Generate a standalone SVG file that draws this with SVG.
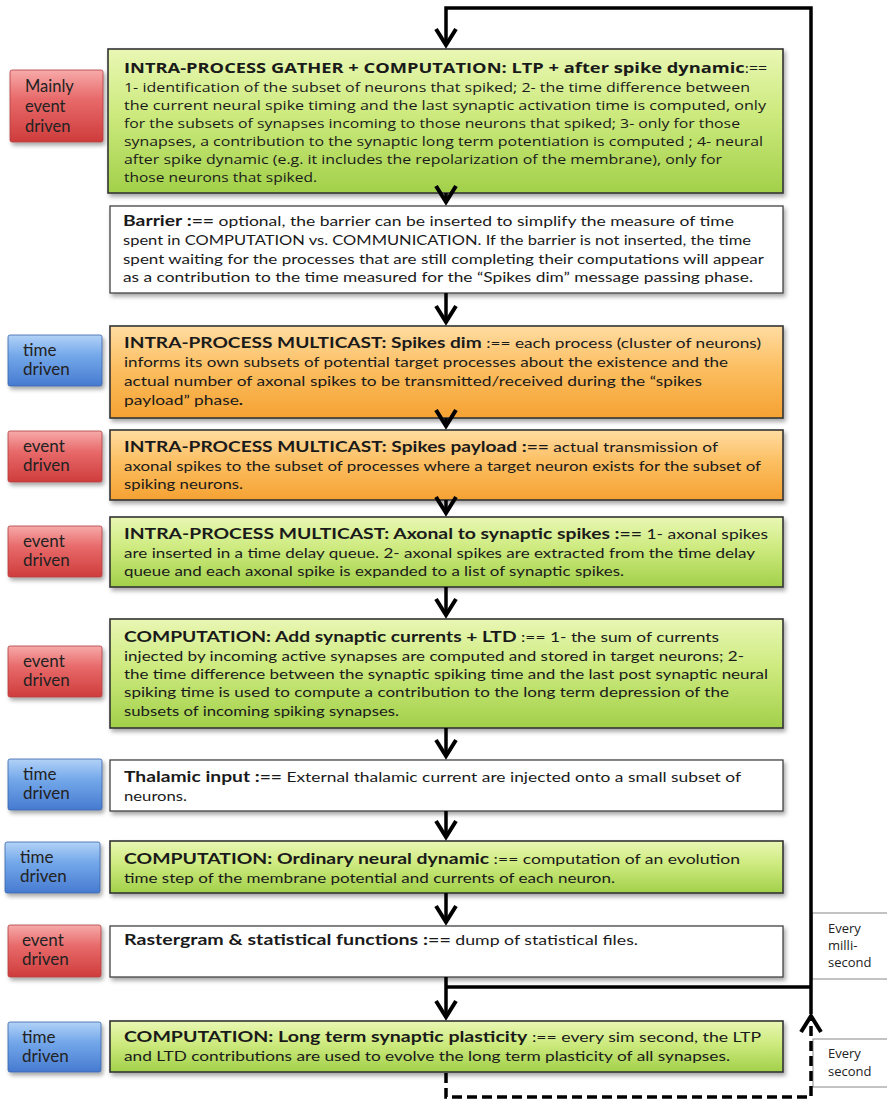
<svg xmlns="http://www.w3.org/2000/svg" width="887" height="1102" viewBox="0 0 887 1102">
<defs>
<style>
.b1{font-family:"Open Sans","DejaVu Sans",sans-serif;font-size:13px;fill:#1a1a1a}
.b1 .t{font-weight:bold;font-size:15px}
.bd{font-family:Lato,"Liberation Sans",sans-serif;font-size:14px;fill:#1a1a1a}
.bd .t{font-weight:bold;font-size:15.5px}
.lab{font-family:Lato,"Liberation Sans",sans-serif;font-size:17px;fill:#222}
.lab1{font-family:Lato,"Liberation Sans",sans-serif;font-size:16.5px;fill:#222}
.ev{font-family:"Open Sans","DejaVu Sans",sans-serif;font-size:13px;fill:#222}
.green{fill:url(#gG);stroke:#333;stroke-width:1.6}
.orange{fill:url(#gO);stroke:#333;stroke-width:1.6}
.white{fill:#fff;stroke:#444;stroke-width:1.3}
.red{fill:url(#gR);stroke:#b04040;stroke-width:0.8}
.blue{fill:url(#gB);stroke:#3a66a8;stroke-width:0.8}
.evbox{fill:#fff;stroke:#888;stroke-width:1}
.conn{fill:none;stroke:#000;stroke-width:3.5}
.dash{fill:none;stroke:#000;stroke-width:3.5;stroke-dasharray:10 5}
</style>
<linearGradient id="gG" x1="0" y1="0" x2="0" y2="1">
<stop offset="0" stop-color="#e9f7b4"/><stop offset="0.45" stop-color="#cdea7e"/><stop offset="1" stop-color="#a2d04a"/>
</linearGradient>
<linearGradient id="gO" x1="0" y1="0" x2="0" y2="1">
<stop offset="0" stop-color="#ffdca2"/><stop offset="0.45" stop-color="#fcbf62"/><stop offset="1" stop-color="#f5a232"/>
</linearGradient>
<linearGradient id="gR" x1="0" y1="0" x2="0" y2="1">
<stop offset="0" stop-color="#f7aaaa"/><stop offset="0.4" stop-color="#e86a6a"/><stop offset="1" stop-color="#cf3c3c"/>
</linearGradient>
<linearGradient id="gB" x1="0" y1="0" x2="0" y2="1">
<stop offset="0" stop-color="#b2d2f7"/><stop offset="0.4" stop-color="#74a8ea"/><stop offset="1" stop-color="#467ad0"/>
</linearGradient>
<filter id="sh" x="-5%" y="-10%" width="115%" height="140%">
<feDropShadow dx="2" dy="3" stdDeviation="2" flood-opacity="0.35"/>
</filter>
<marker id="chev" markerUnits="userSpaceOnUse" viewBox="-24 -14 30 28" markerWidth="30" markerHeight="28" refX="0" refY="0" orient="auto" overflow="visible">
<path d="M-16,-10 L0,0 L-16,10" fill="none" stroke="#000" stroke-width="4" stroke-dasharray="none"/>
</marker>
</defs>

<!-- Every boxes -->
<g id="every-ms">
<rect class="evbox" x="812" y="913" width="90" height="66"/>
<text class="ev" x="828" y="933">Every</text>
<text class="ev" x="828" y="950">milli-</text>
<text class="ev" x="828" y="967">second</text>
</g>
<g id="every-s">
<rect class="evbox" x="813" y="1039" width="90" height="48"/>
<text class="ev" x="828" y="1058">Every</text>
<text class="ev" x="828" y="1076">second</text>
</g>

<!-- Side labels -->
<g id="lab1"><rect class="red" x="10" y="70" width="93" height="72" rx="2" filter="url(#sh)"/>
<text class="lab1" x="25" y="92">Mainly</text><text class="lab1" x="25" y="112">event</text><text class="lab1" x="25" y="132">driven</text></g>
<g id="lab2"><rect class="blue" x="8" y="335" width="94" height="51" rx="2" filter="url(#sh)"/>
<text class="lab" x="23" y="356">time</text><text class="lab" x="23" y="375">driven</text></g>
<g id="lab3"><rect class="red" x="8" y="431" width="94" height="51" rx="2" filter="url(#sh)"/>
<text class="lab" x="23" y="452">event</text><text class="lab" x="23" y="471">driven</text></g>
<g id="lab4"><rect class="red" x="8" y="526" width="94" height="51" rx="2" filter="url(#sh)"/>
<text class="lab" x="23" y="547">event</text><text class="lab" x="23" y="566">driven</text></g>
<g id="lab5"><rect class="red" x="8" y="646" width="94" height="51" rx="2" filter="url(#sh)"/>
<text class="lab" x="23" y="667">event</text><text class="lab" x="23" y="686">driven</text></g>
<g id="lab6"><rect class="blue" x="8" y="759" width="94" height="51" rx="2" filter="url(#sh)"/>
<text class="lab" x="23" y="780">time</text><text class="lab" x="23" y="799">driven</text></g>
<g id="lab7"><rect class="blue" x="5" y="842" width="95" height="51" rx="2" filter="url(#sh)"/>
<text class="lab" x="20" y="863">time</text><text class="lab" x="20" y="882">driven</text></g>
<g id="lab8"><rect class="red" x="8" y="925" width="93" height="52" rx="2" filter="url(#sh)"/>
<text class="lab" x="22" y="946">event</text><text class="lab" x="22" y="965">driven</text></g>
<g id="lab9"><rect class="blue" x="8" y="1022" width="93" height="50" rx="2" filter="url(#sh)"/>
<text class="lab" x="22" y="1043">time</text><text class="lab" x="22" y="1062">driven</text></g>

<!-- Main boxes -->
<g id="n-ltp">
<rect class="green" x="108" y="49" width="675" height="144" filter="url(#sh)"/>
<text class="b1" x="124" y="73" textLength="643" lengthAdjust="spacingAndGlyphs"><tspan class="t">INTRA-PROCESS GATHER + COMPUTATION: LTP + after spike dynamic</tspan>:==</text>
<text class="b1" x="124" y="92" textLength="626" lengthAdjust="spacingAndGlyphs">1- identification of the subset of neurons that spiked; 2- the time difference between</text>
<text class="b1" x="124" y="110" textLength="642" lengthAdjust="spacingAndGlyphs">the current neural spike timing  and the last synaptic activation time  is computed, only</text>
<text class="b1" x="124" y="128" textLength="616" lengthAdjust="spacingAndGlyphs">for the subsets of synapses incoming to those neurons that spiked; 3- only for those</text>
<text class="b1" x="124" y="146" textLength="639" lengthAdjust="spacingAndGlyphs">synapses, a contribution to the synaptic long term potentiation is computed ; 4- neural</text>
<text class="b1" x="124" y="164" textLength="598" lengthAdjust="spacingAndGlyphs">after spike dynamic (e.g. it includes the repolarization of the membrane), only for</text>
<text class="b1" x="124" y="182" textLength="193" lengthAdjust="spacingAndGlyphs">those neurons that spiked.</text>
</g>

<g id="n-barrier">
<rect class="white" x="110" y="206" width="673" height="87" filter="url(#sh)"/>
<text class="bd" x="123" y="226" textLength="611" lengthAdjust="spacingAndGlyphs"><tspan class="t">Barrier :==</tspan> optional,  the barrier  can be inserted to simplify the measure of time</text>
<text class="bd" x="123" y="245" textLength="628" lengthAdjust="spacingAndGlyphs">spent in COMPUTATION vs. COMMUNICATION. If the barrier is not inserted, the time</text>
<text class="bd" x="123" y="264" textLength="641" lengthAdjust="spacingAndGlyphs">spent waiting for the processes that are still completing their computations will appear</text>
<text class="bd" x="123" y="282" textLength="630" lengthAdjust="spacingAndGlyphs">as a contribution to the time measured  for the  “Spikes dim” message passing phase.</text>
</g>

<g id="n-dim">
<rect class="orange" x="110" y="326" width="673" height="92" filter="url(#sh)"/>
<text class="bd" x="124" y="348" textLength="637" lengthAdjust="spacingAndGlyphs"><tspan class="t">INTRA-PROCESS MULTICAST: Spikes dim</tspan> :==  each process (cluster of neurons)</text>
<text class="bd" x="124" y="367" textLength="604" lengthAdjust="spacingAndGlyphs">informs its own subsets of potential target processes about the  existence and the</text>
<text class="bd" x="124" y="386" textLength="578" lengthAdjust="spacingAndGlyphs">actual  number of axonal spikes to be transmitted/received during the  “spikes</text>
<text class="bd" x="124" y="405" textLength="119" lengthAdjust="spacingAndGlyphs">payload” phase<tspan font-weight="bold">.</tspan></text>
</g>

<g id="n-payload">
<rect class="orange" x="110" y="430" width="673" height="70" filter="url(#sh)"/>
<text class="bd" x="124" y="452" textLength="594" lengthAdjust="spacingAndGlyphs"><tspan class="t">INTRA-PROCESS MULTICAST: Spikes payload :==</tspan> actual transmission of</text>
<text class="bd" x="124" y="471" textLength="637" lengthAdjust="spacingAndGlyphs">axonal spikes to the subset of processes where a target neuron exists for the subset of</text>
<text class="bd" x="124" y="489" textLength="119" lengthAdjust="spacingAndGlyphs">spiking neurons.</text>
</g>

<g id="n-axonal">
<rect class="green" x="110" y="517" width="673" height="70" filter="url(#sh)"/>
<text class="bd" x="124" y="539" textLength="644" lengthAdjust="spacingAndGlyphs"><tspan class="t">INTRA-PROCESS MULTICAST: Axonal to synaptic spikes :==</tspan> 1- axonal spikes</text>
<text class="bd" x="124" y="558" textLength="631" lengthAdjust="spacingAndGlyphs">are inserted in a time delay queue. 2- axonal spikes are extracted from the time delay</text>
<text class="bd" x="124" y="576" textLength="500" lengthAdjust="spacingAndGlyphs">queue and each axonal spike is expanded to a list of synaptic spikes.</text>
</g>

<g id="n-add">
<rect class="green" x="110" y="619" width="673" height="109" filter="url(#sh)"/>
<text class="bd" x="124" y="642" textLength="595" lengthAdjust="spacingAndGlyphs"><tspan class="t">COMPUTATION: Add synaptic currents + LTD</tspan> :== 1- the sum of currents</text>
<text class="bd" x="124" y="661" textLength="620" lengthAdjust="spacingAndGlyphs">injected by incoming active synapses are computed and stored in target neurons; 2-</text>
<text class="bd" x="124" y="679" textLength="644" lengthAdjust="spacingAndGlyphs">the time difference between the synaptic spiking time and the last post synaptic neural</text>
<text class="bd" x="124" y="697" textLength="605" lengthAdjust="spacingAndGlyphs">spiking time  is used to compute a contribution to the long term depression of the</text>
<text class="bd" x="124" y="716" textLength="275" lengthAdjust="spacingAndGlyphs">subsets of incoming spiking synapses.</text>
</g>

<g id="n-thalamic">
<rect class="white" x="110" y="760" width="673" height="51" filter="url(#sh)"/>
<text class="bd" x="124" y="782" textLength="617" lengthAdjust="spacingAndGlyphs"><tspan class="t">Thalamic input :==</tspan> External thalamic current are injected onto a small subset of</text>
<text class="bd" x="124" y="801" textLength="63" lengthAdjust="spacingAndGlyphs">neurons.</text>
</g>

<g id="n-ordinary">
<rect class="green" x="110" y="841" width="673" height="52" filter="url(#sh)"/>
<text class="bd" x="124" y="864" textLength="616" lengthAdjust="spacingAndGlyphs"><tspan class="t">COMPUTATION: Ordinary neural dynamic</tspan> :== computation of an evolution</text>
<text class="bd" x="124" y="883" textLength="491" lengthAdjust="spacingAndGlyphs">time step of  the membrane potential and currents of each neuron.</text>
</g>

<g id="n-raster">
<rect class="white" x="110" y="926" width="673" height="51" filter="url(#sh)"/>
<text class="bd" x="124" y="945" textLength="514" lengthAdjust="spacingAndGlyphs"><tspan class="t">Rastergram &amp; statistical functions :==</tspan> dump of statistical files.</text>
</g>

<g id="n-longterm">
<rect class="green" x="110" y="1021" width="673" height="51" filter="url(#sh)"/>
<text class="bd" x="124" y="1042" textLength="637" lengthAdjust="spacingAndGlyphs"><tspan class="t">COMPUTATION: Long term synaptic  plasticity</tspan> :== every sim second,  the LTP</text>
<text class="bd" x="124" y="1061" textLength="606" lengthAdjust="spacingAndGlyphs">and LTD contributions are used to evolve the long term plasticity of all synapses.</text>
</g>

<!-- Connectors -->
<g id="connectors">
<path class="conn" d="M811,1014 V8 H446 V45" marker-end="url(#chev)"/>
<path class="conn" d="M446,987 H811"/>
<path class="conn" d="M446,193 V202" marker-end="url(#chev)"/>
<path class="conn" d="M446,293 V322" marker-end="url(#chev)"/>
<path class="conn" d="M446,418 V426" marker-end="url(#chev)"/>
<path class="conn" d="M446,500 V513" marker-end="url(#chev)"/>
<path class="conn" d="M446,587 V615" marker-end="url(#chev)"/>
<path class="conn" d="M446,728 V756" marker-end="url(#chev)"/>
<path class="conn" d="M446,811 V837" marker-end="url(#chev)"/>
<path class="conn" d="M446,893 V922" marker-end="url(#chev)"/>
<path class="conn" d="M446,977 V1017" marker-end="url(#chev)"/>
<path class="dash" d="M446,1073 V1097 H811 V1016" marker-end="url(#chev)"/>
</g>
</svg>
